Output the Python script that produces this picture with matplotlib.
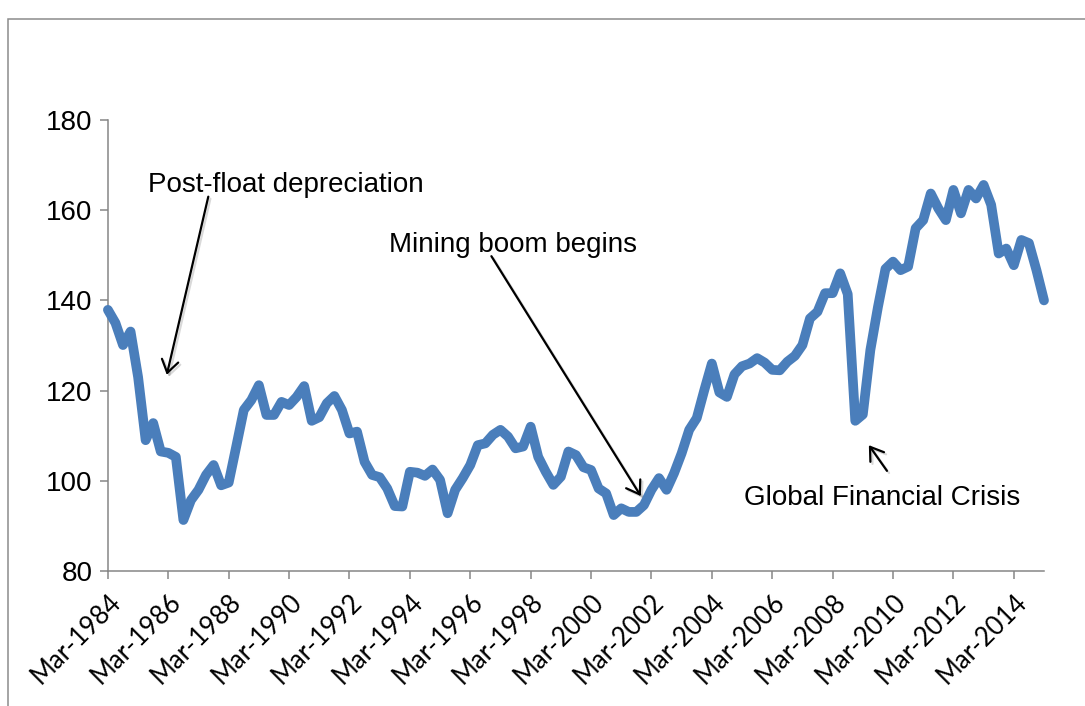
import numpy as np
import pandas as pd
import matplotlib
matplotlib.use('Agg')
import matplotlib.pyplot as plt
from matplotlib import patheffects
from matplotlib.patches import Rectangle

# ----- квартальний індекс (Mar-1984 ... Mar-2015)
twi = [137.9, 135.0, 130.1, 133.1, 123.0, 109.0, 112.8, 106.5, 106.2, 105.3,
       91.3, 95.7, 98.0, 101.3, 103.5, 99.0, 99.6, 107.6, 115.7, 117.9,
       121.2, 114.6, 114.6, 117.5, 116.8, 118.6, 121.0, 113.3, 114.1, 117.2,
       118.8, 115.7, 110.5, 110.9, 104.2, 101.3, 100.8, 98.3, 94.4, 94.3,
       102.0, 101.8, 101.1, 102.5, 100.2, 92.8, 98.0, 100.6, 103.5, 107.9,
       108.3, 110.2, 111.3, 109.8, 107.2, 107.6, 112.0, 105.3, 102.0, 99.1,
       100.9, 106.5, 105.7, 103.0, 102.4, 98.3, 97.2, 92.4, 93.9, 93.1,
       93.1, 94.6, 98.0, 100.6, 98.0, 101.7, 106.1, 111.3, 113.9, 120.1,
       126.0, 119.6, 118.6, 123.6, 125.4, 126.0, 127.2, 126.2, 124.6, 124.5,
       126.4, 127.7, 130.1, 136.0, 137.5, 141.6, 141.6, 146.0, 141.4, 113.3,
       114.7, 129.0, 138.5, 147.0, 148.6, 146.7, 147.5, 156.0, 157.8, 163.7,
       160.4, 157.8, 164.5, 159.3, 164.5, 162.6, 165.6, 161.2, 150.4, 151.5,
       147.8, 153.4, 152.7, 146.7, 140.0]

quarters = pd.date_range('1984-03-01', periods=len(twi), freq='3MS')
quarter_labels = [d.strftime('%b-%Y') for d in quarters]
label_step = 8
y_ticks = [80, 100, 120, 140, 160, 180]

# підписи подій: (текст, позиція тексту, хвіст стрілки, вістря стрілки)
events = [
    ('Post-float depreciation', (5.3, 164.0), (13.3, 163.0), (7.8, 123.5)),
    ('Mining boom begins', (37.3, 150.7), (50.8, 149.8), (70.6, 96.6)),
    ('Global Financial Crisis', (84.2, 94.7), (103.2, 102.2), (100.8, 107.9)),
]

axis_grey = '#868686'
line_blue = '#4A7EBB'

fig = plt.figure(figsize=(10.85, 7.06), dpi=100)
fig.patch.set_facecolor('white')

# рамка області діаграми
fig.add_artist(Rectangle((8 / 1085, -0.1), 1.2, 0.1 + 1 - 19 / 706,
                         transform=fig.transFigure, fill=False,
                         edgecolor='#8c8c8c', linewidth=1.1))

ax = fig.add_axes([107.9 / 1085, 1 - 571 / 706, (1044 - 107.9) / 1085, (571 - 120) / 706])

x = np.arange(len(twi))
ax.plot(x, twi, color=line_blue, linewidth=7, solid_joinstyle='round',
        solid_capstyle='round', clip_on=False, zorder=3)

ax.set_xlim(0, len(twi) - 1)
ax.set_ylim(80, 180)

for side in ['top', 'right']:
    ax.spines[side].set_visible(False)
for side in ['left', 'bottom']:
    ax.spines[side].set_color(axis_grey)
    ax.spines[side].set_linewidth(1.1)

ax.set_yticks(y_ticks)
ax.set_yticklabels([str(v) for v in y_ticks], fontsize=20, family='Liberation Sans')
tick_pos = x[::label_step]
ax.set_xticks(tick_pos)
ax.set_xticklabels([quarter_labels[i] for i in tick_pos], rotation=45, ha='right',
                   rotation_mode='anchor', fontsize=18.5, family='Lato')
ax.tick_params(axis='both', colors=axis_grey, labelcolor='black', length=6, width=1.1,
               direction='out')
ax.tick_params(axis='y', pad=5)
ax.tick_params(axis='x', pad=7)

shadow = [patheffects.SimpleLineShadow(offset=(1.5, -1.5), shadow_color='black', alpha=0.15),
          patheffects.Normal()]
for text, text_xy, tail, tip in events:
    ax.text(text_xy[0], text_xy[1], text, fontsize=20, family='Liberation Sans',
            ha='left', va='baseline', zorder=5)
    ax.annotate('', xy=tip, xytext=tail,
                arrowprops=dict(arrowstyle='->,head_length=0.45,head_width=0.3',
                                mutation_scale=20, color='black', lw=1.6,
                                shrinkA=0, shrinkB=0, path_effects=shadow),
                annotation_clip=False, zorder=5)

fig.savefig('out.png', dpi=100, facecolor='white')
